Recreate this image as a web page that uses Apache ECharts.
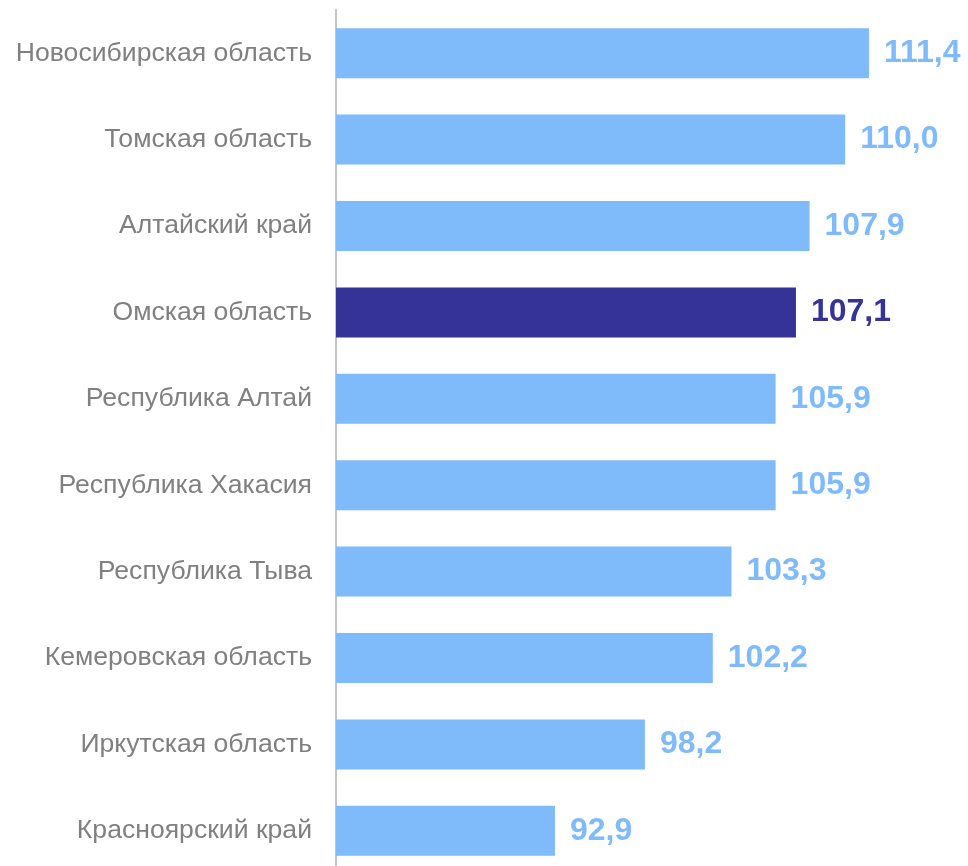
<!DOCTYPE html>
<html>
<head>
<meta charset="utf-8">
<script src="https://cdn.jsdelivr.net/npm/echarts@6/dist/echarts.min.js"></script>
<style>
html,body{margin:0;padding:0;background:#fff;overflow:hidden;width:968px;height:866px;}
#c{width:968px;height:880px;}
</style>
</head>
<body>
<div id="c"></div>
<script>
const categories = ["Новосибирская область","Томская область","Алтайский край","Омская область","Республика Алтай","Республика Хакасия","Республика Тыва","Кемеровская область","Иркутская область","Красноярский край"];
const values = [111.4,110.0,107.9,107.1,105.9,105.9,103.3,102.2,98.2,92.9];
const highlightCategory = "Омская область";
const lightColor = "#7fbafb";
const darkColor = "#353397";

const chart = echarts.init(document.getElementById('c'));
const data = values.map((v,i)=>{
  const hl = categories[i] === highlightCategory;
  return {
    value: v,
    itemStyle: {color: hl ? darkColor : lightColor},
    label: {color: hl ? darkColor : lightColor}
  };
});
chart.setOption({
  animation:false,
  grid:{left:336, width:628, top:10, height:864},
  xAxis:{type:'value', min:80, max:117, show:false},
  yAxis:{
    type:'category', data:categories, inverse:true,
    axisLine:{show:true, lineStyle:{color:'#c4c4c4', width:2}},
    axisTick:{show:false},
    axisLabel:{color:'#808080', fontSize:26.6, fontFamily:'Liberation Sans, Arial', margin:24}
  },
  series:[{
    type:'bar', data:data, barWidth:50,
    label:{show:true, position:'right', distance:15, fontSize:32, fontWeight:'bold', fontFamily:'Liberation Sans, Arial',
      formatter:p=>p.value.toFixed(1).replace('.',',')}
  }]
});
</script>
</body>
</html>
